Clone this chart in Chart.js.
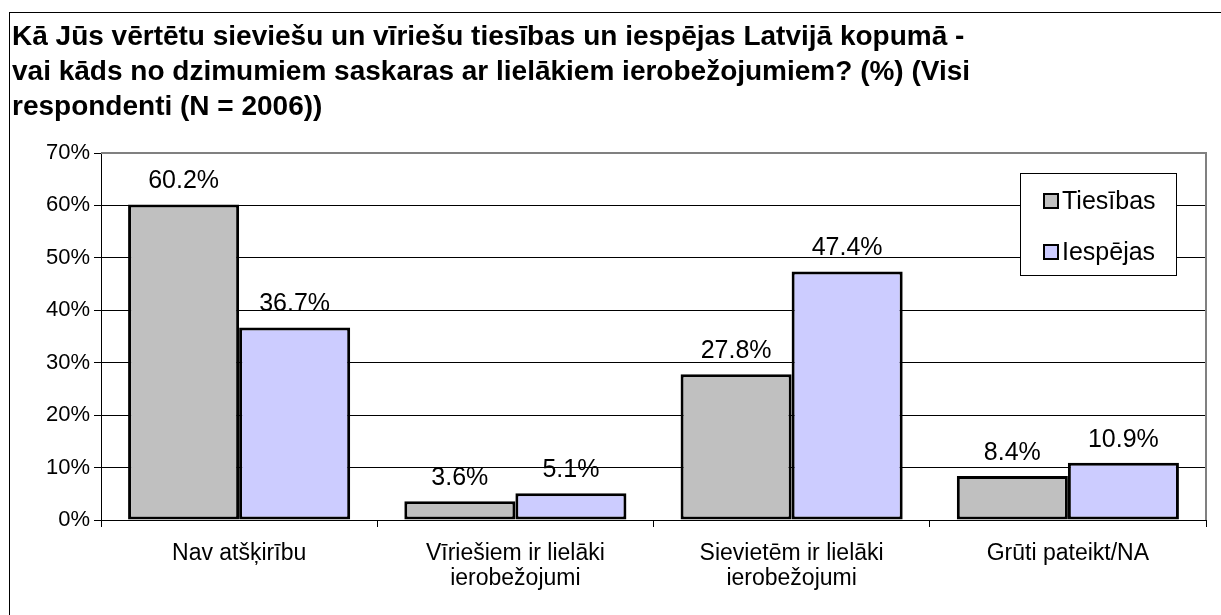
<!DOCTYPE html>
<html>
<head>
<meta charset="utf-8">
<script src="https://cdn.jsdelivr.net/npm/chart.js@4/dist/chart.umd.min.js"></script>
<style>
  html, body { margin: 0; padding: 0; background: #fff; }
  #wrap { width: 1221px; height: 615px; position: relative; }
</style>
</head>
<body>
<div id="wrap"><canvas id="c" width="1221" height="615"></canvas></div>
<script>
const titleLines = [
  "Kā Jūs vērtētu sieviešu un vīriešu tiesības un iespējas Latvijā kopumā -",
  "vai kāds no dzimumiem saskaras ar lielākiem ierobežojumiem? (%) (Visi",
  "respondenti (N = 2006))"
];
const categories = [
  "Nav atšķirību",
  ["Vīriešiem ir lielāki", "ierobežojumi"],
  ["Sievietēm ir lielāki", "ierobežojumi"],
  "Grūti pateikt/NA"
];
const seriesNames = ["Tiesības", "Iespējas"];
const tiesibas = [60.2, 3.6, 27.8, 8.4];
const iespejas = [36.7, 5.1, 47.4, 10.9];
const yTicks = [0, 10, 20, 30, 40, 50, 60, 70];

const FONT = "'Liberation Sans', Arial, sans-serif";

const framePlugin = {
  id: 'frame',
  beforeDraw(chart) {
    const ctx = chart.ctx;
    ctx.save();
    ctx.fillStyle = '#fff';
    ctx.fillRect(0, 0, chart.width, chart.height);
    ctx.strokeStyle = '#000';
    ctx.lineWidth = 1;
    ctx.strokeRect(9.5, 12.5, 1300, 700);
    ctx.fillStyle = '#000';
    ctx.font = "bold 28px " + FONT;
    ctx.textBaseline = 'alphabetic';
    ctx.textAlign = 'left';
    titleLines.forEach((t, i) => ctx.fillText(t, 12, 45 + i * 35));
    ctx.restore();
  },
  afterDraw(chart) {
    const ctx = chart.ctx;
    const a = chart.chartArea;
    ctx.save();
    ctx.strokeStyle = '#808080';
    ctx.lineWidth = 2;
    ctx.beginPath();
    ctx.moveTo(a.left, a.top);
    ctx.lineTo(a.right, a.top);
    ctx.lineTo(a.right, a.bottom);
    ctx.stroke();
    const lx = 1020.5, ly = 173.5, lw = 156, lh = 102;
    ctx.fillStyle = '#fff';
    ctx.fillRect(lx, ly, lw, lh);
    ctx.strokeStyle = '#000';
    ctx.lineWidth = 1;
    ctx.strokeRect(lx, ly, lw, lh);
    ctx.font = "25px " + FONT;
    ctx.textBaseline = 'middle';
    ctx.textAlign = 'left';
    chart.data.datasets.forEach((ds, i) => {
      const cy = 201 + i * 51;
      ctx.fillStyle = ds.backgroundColor;
      ctx.fillRect(1044, cy - 7, 14, 14);
      ctx.strokeStyle = '#000';
      ctx.lineWidth = 2;
      ctx.strokeRect(1044, cy - 7, 14, 14);
      ctx.fillStyle = '#000';
      ctx.fillText(ds.label, 1062, cy + 1);
    });
    ctx.restore();
  },
  afterDatasetsDraw(chart) {
    const ctx = chart.ctx;
    ctx.save();
    ctx.font = "25px " + FONT;
    ctx.fillStyle = '#000';
    ctx.textAlign = 'center';
    ctx.textBaseline = 'middle';
    chart.data.datasets.forEach((ds, di) => {
      const meta = chart.getDatasetMeta(di);
      meta.data.forEach((bar, i) => {
        ctx.fillText(ds.data[i].toFixed(1) + '%', bar.x, bar.y - 23);
      });
    });
    ctx.restore();
  }
};

new Chart(document.getElementById('c'), {
  type: 'bar',
  data: {
    labels: categories,
    datasets: [
      { label: seriesNames[0], data: tiesibas, backgroundColor: '#C0C0C0', borderColor: '#000', borderWidth: 3, borderSkipped: false },
      { label: seriesNames[1], data: iespejas, backgroundColor: '#CCCCFF', borderColor: '#000', borderWidth: 3, borderSkipped: false }
    ]
  },
  options: {
    responsive: false,
    animation: false,
    devicePixelRatio: 1,
    layout: { padding: { left: 0, right: 15, top: 153, bottom: 0 } },
    datasets: { bar: { categoryPercentage: 0.804, barPercentage: 1.0 } },
    plugins: { legend: { display: false }, title: { display: false }, tooltip: { enabled: false } },
    scales: {
      x: {
        offset: true,
        grid: { drawOnChartArea: false, offset: true, tickLength: 7, color: '#000', lineWidth: 1 },
        border: { display: true, color: '#000', width: 1 },
        ticks: { color: '#000', font: { family: FONT, size: 23, lineHeight: 1.1 }, padding: 14, maxRotation: 0, autoSkip: false },
        afterFit(s) { s.height = 95; }
      },
      y: {
        min: 0, max: 70,
        afterBuildTicks(s) { s.ticks = yTicks.map(v => ({ value: v })); },
        grid: { color: ctx => ctx.tick && ctx.tick.value === 70 ? '#808080' : '#000', lineWidth: 1, tickLength: 7, tickColor: '#000' },
        border: { display: true, color: '#000', width: 1 },
        ticks: { color: '#000', font: { family: FONT, size: 22 }, padding: 4, callback: v => v + '%' },
        afterFit(s) { s.width = 101; }
      }
    }
  },
  plugins: [framePlugin]
});
</script>
</body>
</html>
